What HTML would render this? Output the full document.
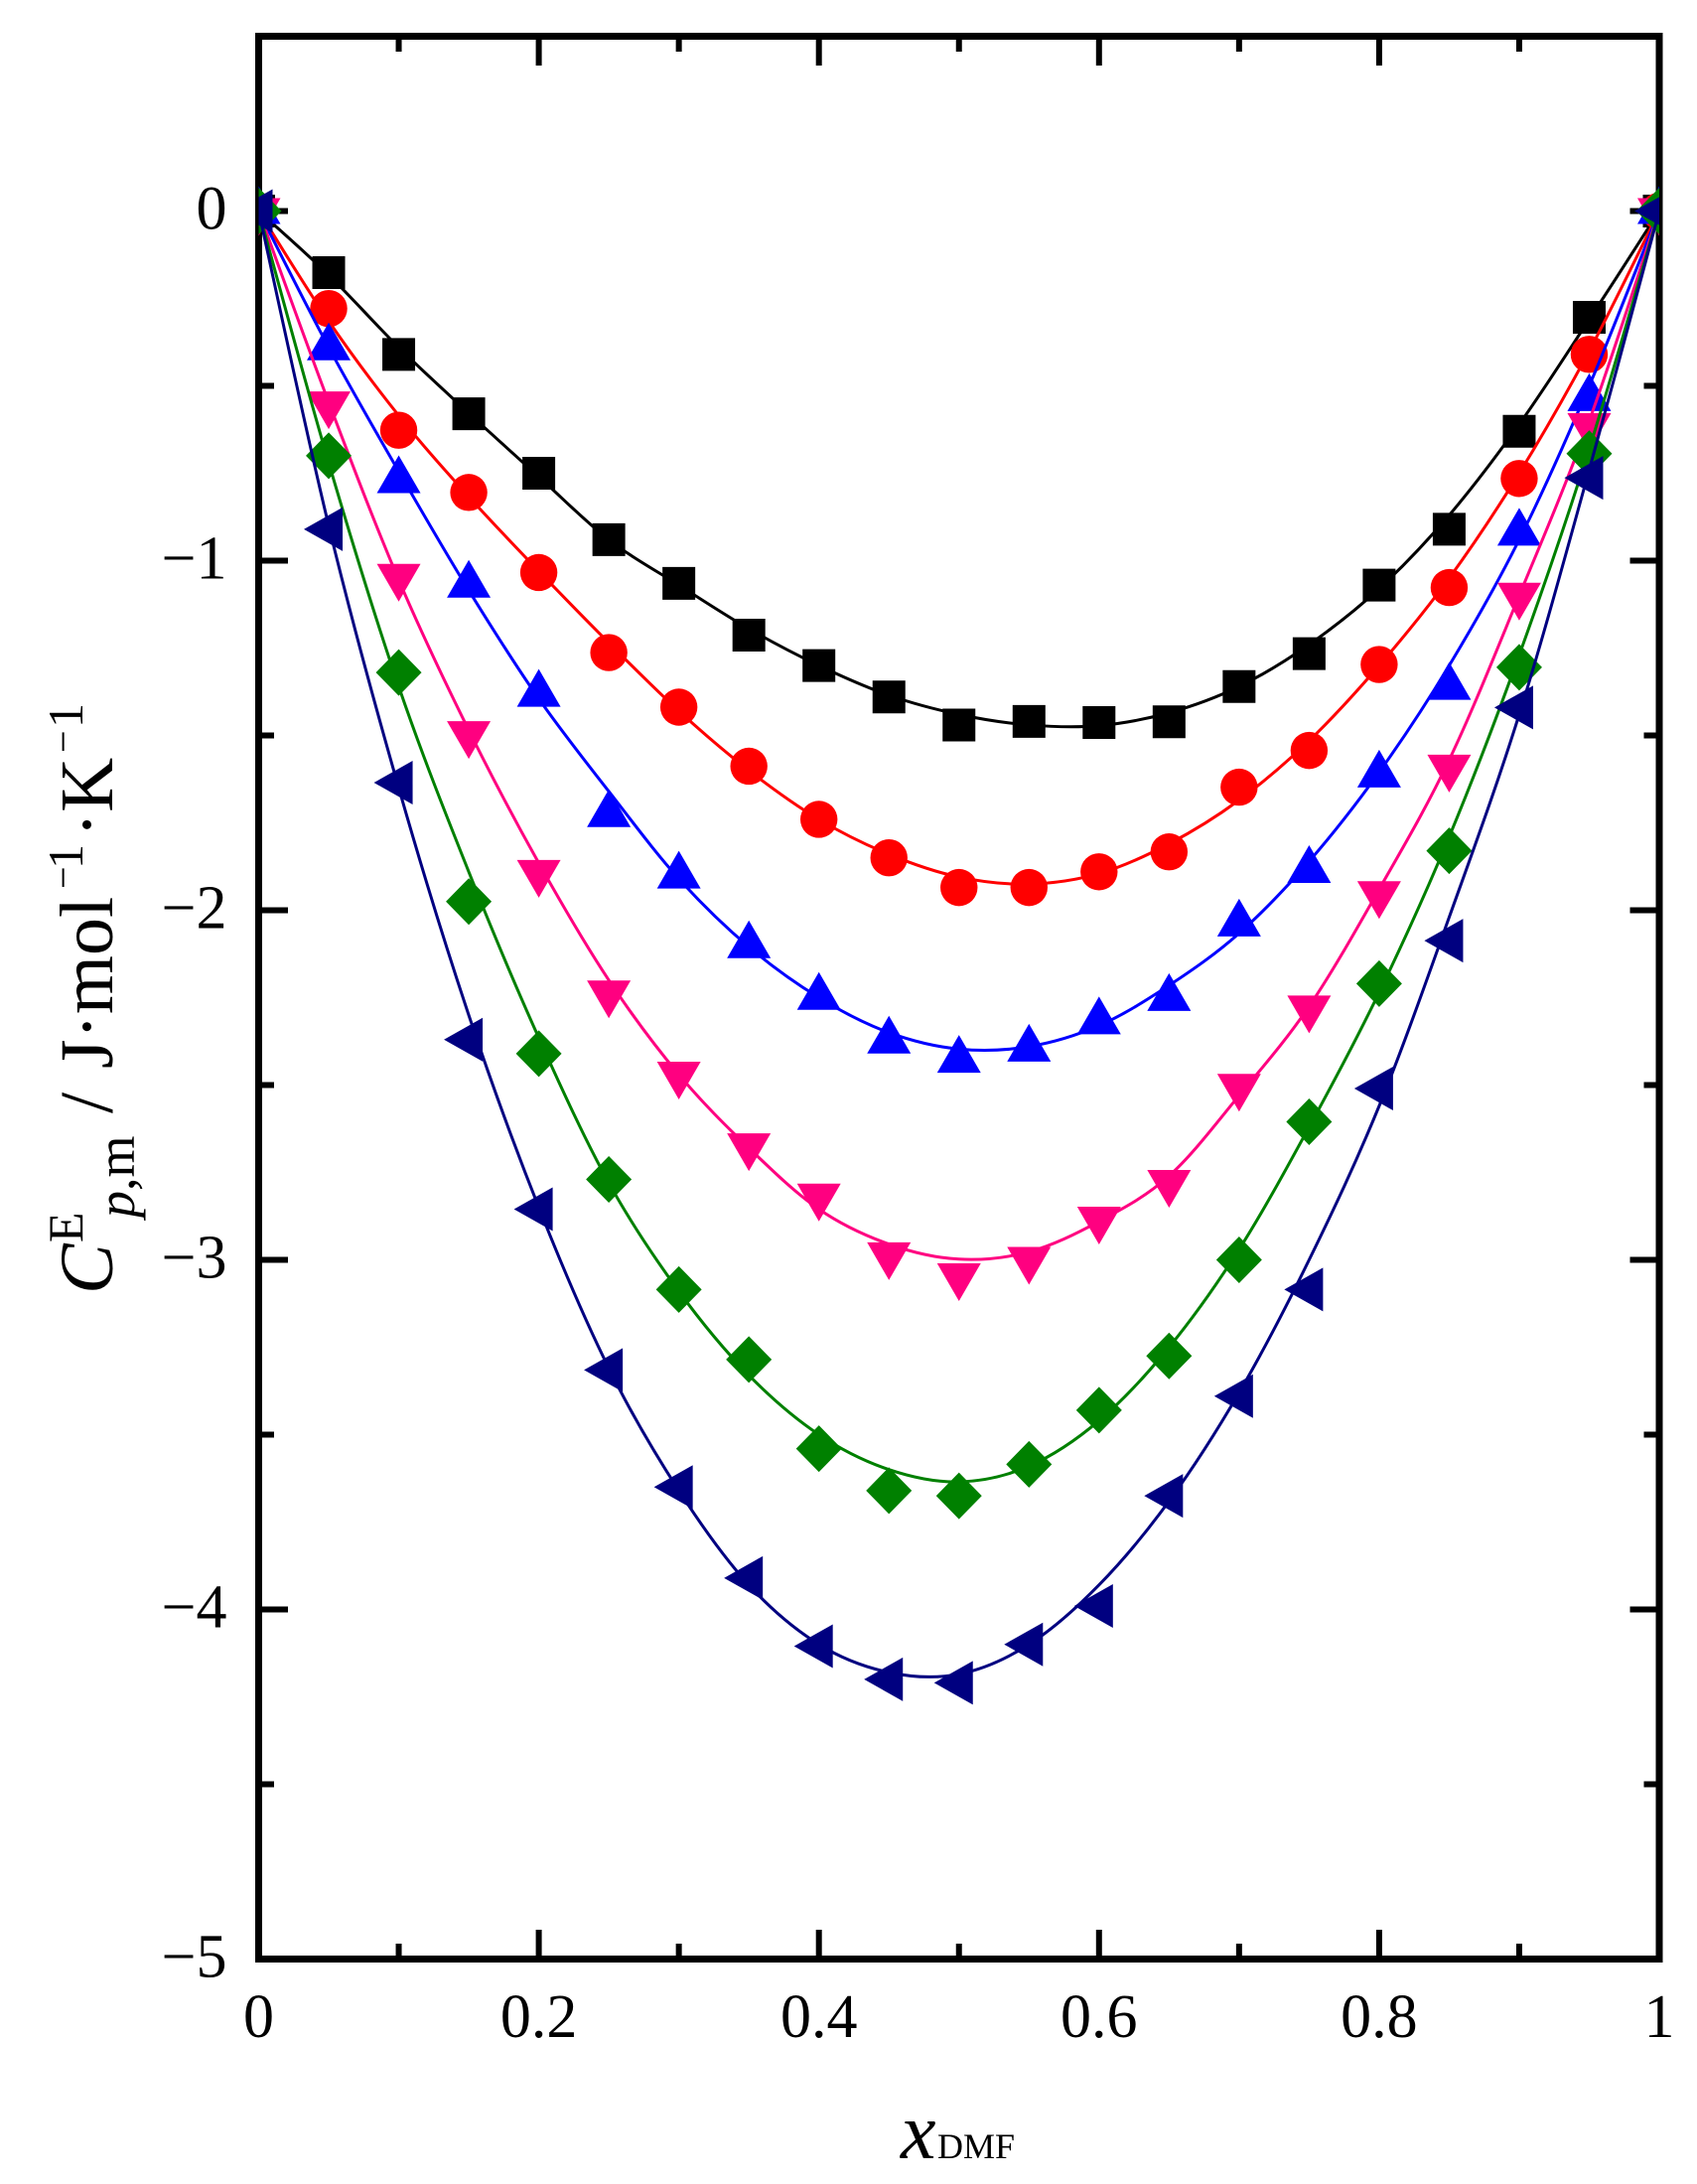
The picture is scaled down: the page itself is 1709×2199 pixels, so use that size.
<!DOCTYPE html>
<html>
<head>
<meta charset="utf-8">
<title>Excess heat capacity vs DMF mole fraction</title>
<style>
html,body{margin:0;padding:0;background:#fff;}
svg{display:block;}
text{font-family:"Liberation Serif",serif;fill:#000;}
</style>
</head>
<body>
<svg id="chart" xmlns="http://www.w3.org/2000/svg" width="1709" height="2199" viewBox="0 0 1709 2199">
  <defs><clipPath id="plot-clip"><rect x="260.5" y="36.5" width="1410.5" height="1936"/></clipPath></defs>
  <rect x="260.5" y="36.5" width="1410.5" height="1936" fill="none" stroke="#000" stroke-width="7"/>
  <g id="ticks"></g>
  <g id="tick-labels" font-size="62"></g>
  <g id="series" clip-path="url(#plot-clip)"></g>
  <g transform="translate(113,1300) rotate(-90)">
    <text x="-3" y="0" font-size="76" font-style="italic">C</text>
    <text x="49" y="-30" font-size="50">E</text>
    <text x="74" y="22" font-size="54"><tspan font-style="italic">p</tspan>,m</text>
    <text x="179" y="0" font-size="76">/</text>
    <text x="224" y="0" font-size="76">J·mol</text>
    <text x="405" y="-36" font-size="40">−</text>
    <text x="425" y="-30" font-size="50">1</text>
    <text x="457" y="0" font-size="76">·K</text>
    <text x="542" y="-36" font-size="40">−</text>
    <text x="567" y="-30" font-size="50">1</text>
  </g>
  <g>
    <text x="907" y="2173" font-size="80" font-style="italic">x</text>
    <text x="944" y="2173" font-size="36">DMF</text>
  </g>
</svg>
<script>
var xValues = [0,0.05,0.1,0.15,0.2,0.25,0.3,0.35,0.4,0.45,0.5,0.55,0.6,0.65,0.7,0.75,0.8,0.85,0.9,0.95,1];
var xMajorTicks = [0,0.2,0.4,0.6,0.8,1];
var xMinorTicks = [0.1,0.3,0.5,0.7,0.9];
var yMajorTicks = [0,-1,-2,-3,-4,-5];
var yMinorTicks = [-0.5,-1.5,-2.5,-3.5,-4.5];
var xTickLabels = ["0","0.2","0.4","0.6","0.8","1"];
var yTickLabels = ["0","−1","−2","−3","−4","−5"];

var pointsBlack = [0,-0.176,-0.41,-0.58,-0.75,-0.94,-1.065,-1.213,-1.30,-1.39,-1.47,-1.46,-1.463,-1.461,-1.36,-1.266,-1.07,-0.91,-0.63,-0.304,0];
var pointsRed   = [0,-0.279,-0.627,-0.805,-1.034,-1.263,-1.419,-1.588,-1.74,-1.85,-1.935,-1.935,-1.89,-1.833,-1.648,-1.543,-1.297,-1.077,-0.765,-0.41,0];
var pointsBlue  = [0,-0.39,-0.77,-1.069,-1.381,-1.725,-1.901,-2.10,-2.248,-2.373,-2.428,-2.396,-2.318,-2.251,-2.038,-1.885,-1.612,-1.361,-0.92,-0.535,0];
var pointsPink  = [0,-0.553,-1.046,-1.496,-1.893,-2.238,-2.47,-2.675,-2.819,-2.987,-3.047,-3.0,-2.885,-2.78,-2.505,-2.281,-1.954,-1.592,-1.10,-0.615,0];
var pointsGreen = [0,-0.70,-1.32,-1.975,-2.41,-2.77,-3.085,-3.285,-3.54,-3.66,-3.675,-3.585,-3.43,-3.275,-3.0,-2.605,-2.21,-1.83,-1.305,-0.694,0];
var pointsNavy  = [0,-0.91,-1.635,-2.37,-2.855,-3.315,-3.65,-3.91,-4.105,-4.2,-4.21,-4.10,-3.99,-3.675,-3.39,-3.085,-2.51,-2.087,-1.42,-0.763,0];

var fitBlack = [0,-0.183,-0.39,-0.578,-0.76,-0.94,-1.07,-1.195,-1.30,-1.385,-1.44,-1.47,-1.472,-1.435,-1.36,-1.24,-1.08,-0.87,-0.61,-0.31,0];
var fitRed   = [0,-0.315,-0.585,-0.817,-1.03,-1.235,-1.43,-1.60,-1.74,-1.84,-1.905,-1.925,-1.895,-1.81,-1.685,-1.515,-1.30,-1.05,-0.75,-0.40,0];
var fitBlue  = [0,-0.39,-0.745,-1.085,-1.395,-1.66,-1.91,-2.105,-2.25,-2.35,-2.397,-2.39,-2.33,-2.215,-2.066,-1.86,-1.605,-1.30,-0.94,-0.50,0];
var fitPink  = [0,-0.547,-1.055,-1.485,-1.865,-2.20,-2.47,-2.68,-2.855,-2.955,-2.998,-2.977,-2.89,-2.76,-2.53,-2.275,-1.94,-1.57,-1.10,-0.60,0];
var fitGreen = [0,-0.72,-1.36,-1.89,-2.365,-2.78,-3.09,-3.33,-3.50,-3.60,-3.635,-3.59,-3.46,-3.25,-2.97,-2.62,-2.235,-1.79,-1.27,-0.68,0];
var fitNavy  = [0,-0.90,-1.65,-2.30,-2.85,-3.31,-3.66,-3.93,-4.10,-4.18,-4.185,-4.10,-3.93,-3.69,-3.38,-3.0,-2.56,-2.02,-1.44,-0.74,0];

var SVGNS = 'http://www.w3.org/2000/svg';
function xScale(v){ return 260.5 + v * 1410.5; }
function yScale(v){ return 212.5 - v * 352; }
function make(tag, parent){
  var el = document.createElementNS(SVGNS, tag);
  parent.appendChild(el);
  return el;
}
function tickLine(parent, x1, y1, x2, y2, name){
  var l = make('line', parent);
  l.setAttribute('x1', x1); l.setAttribute('y1', y1);
  l.setAttribute('x2', x2); l.setAttribute('y2', y2);
  l.setAttribute('stroke', '#000');
  l.setAttribute('stroke-width', 6);
  
  
}
var tg = document.getElementById('ticks');
var MAJOR = 29.5, MINOR = 15.5;
function xTicks(arr, len, name){
  arr.forEach(function(v){
    var x = xScale(v);
    tickLine(tg, x, 1972.5, x, 1972.5 - len, 'x-' + name + '-tick');
    tickLine(tg, x, 36.5, x, 36.5 + len, 'top-' + name + '-tick');
  });
}
function yTicks(arr, len, name){
  arr.forEach(function(v){
    var y = yScale(v);
    tickLine(tg, 260.5, y, 260.5 + len, y, 'y-' + name + '-tick');
    tickLine(tg, 1671, y, 1671 - len, y, 'right-' + name + '-tick');
  });
}
xTicks(xMajorTicks.slice(1, -1), MAJOR, 'major');
xTicks(xMinorTicks, MINOR, 'minor');
yTicks(yMajorTicks.slice(0, -1), MAJOR, 'major');
yTicks(yMinorTicks, MINOR, 'minor');

var lg = document.getElementById('tick-labels');
xMajorTicks.forEach(function(v, i){
  var t = make('text', lg);
  t.setAttribute('x', xScale(v));
  t.setAttribute('y', 2051);
  t.setAttribute('text-anchor', 'middle');
  
  
  t.textContent = xTickLabels[i];
});
yMajorTicks.forEach(function(v, i){
  var t = make('text', lg);
  t.setAttribute('x', 228.5);
  t.setAttribute('y', yScale(v) + 18);
  t.setAttribute('text-anchor', 'end');
  
  
  t.textContent = yTickLabels[i];
});

function curvePath(vals){
  var p = xValues.map(function(x, i){ return [xScale(x), yScale(vals[i])]; });
  var d = 'M' + p[0][0] + ' ' + p[0][1];
  for (var i = 0; i < p.length - 1; i++){
    var a = p[Math.max(i - 1, 0)], b = p[i], c = p[i + 1], e = p[Math.min(i + 2, p.length - 1)];
    d += 'C' + (b[0] + (c[0] - a[0]) / 6) + ' ' + (b[1] + (c[1] - a[1]) / 6) + ' ' +
         (c[0] - (e[0] - b[0]) / 6) + ' ' + (c[1] - (e[1] - b[1]) / 6) + ' ' + c[0] + ' ' + c[1];
  }
  return d;
}
function poly(parent, pts, color){
  var el = make('polygon', parent);
  el.setAttribute('points', pts.map(function(q){ return q.join(','); }).join(' '));
  el.setAttribute('fill', color);
  return el;
}
function marker(parent, shape, cx, cy, color){
  var el;
  if (shape === 'square') {
    el = poly(parent, [[cx-16.5,cy-16.5],[cx+16.5,cy-16.5],[cx+16.5,cy+16.5],[cx-16.5,cy+16.5]], color);
  } else if (shape === 'circle') {
    el = make('circle', parent);
    el.setAttribute('cx', cx);
    el.setAttribute('cy', cy);
    el.setAttribute('r', 18.7);
    el.setAttribute('fill', color);
  } else if (shape === 'up') {
    el = poly(parent, [[cx,cy-25],[cx+22,cy+13],[cx-22,cy+13]], color);
  } else if (shape === 'down') {
    el = poly(parent, [[cx,cy+25],[cx+22,cy-13],[cx-22,cy-13]], color);
  } else if (shape === 'diamond') {
    el = poly(parent, [[cx,cy-23.5],[cx+23,cy],[cx,cy+23.5],[cx-23,cy]], color);
  } else {
    el = poly(parent, [[cx-25,cy],[cx+14,cy-22],[cx+14,cy+22]], color);
  }
  return el;
}
var seriesList = [
  ['black', '#000000', 'square',  pointsBlack, fitBlack],
  ['red',   '#ff0000', 'circle',  pointsRed,   fitRed],
  ['blue',  '#0000ff', 'up',      pointsBlue,  fitBlue],
  ['pink',  '#ff0080', 'down',    pointsPink,  fitPink],
  ['green', '#008000', 'diamond', pointsGreen, fitGreen],
  ['navy',  '#000080', 'left',    pointsNavy,  fitNavy]
];
var sg = document.getElementById('series');
seriesList.forEach(function(s){
  var g = make('g', sg);
  
  
  var line = make('path', g);
  line.setAttribute('d', curvePath(s[4]));
  line.setAttribute('fill', 'none');
  line.setAttribute('stroke', s[1]);
  line.setAttribute('stroke-width', 3);
  
  
  xValues.forEach(function(x, i){
    var m = marker(g, s[2], xScale(x), yScale(s[3][i]), s[1]);
    
    
  });
});
</script>
</body>
</html>
